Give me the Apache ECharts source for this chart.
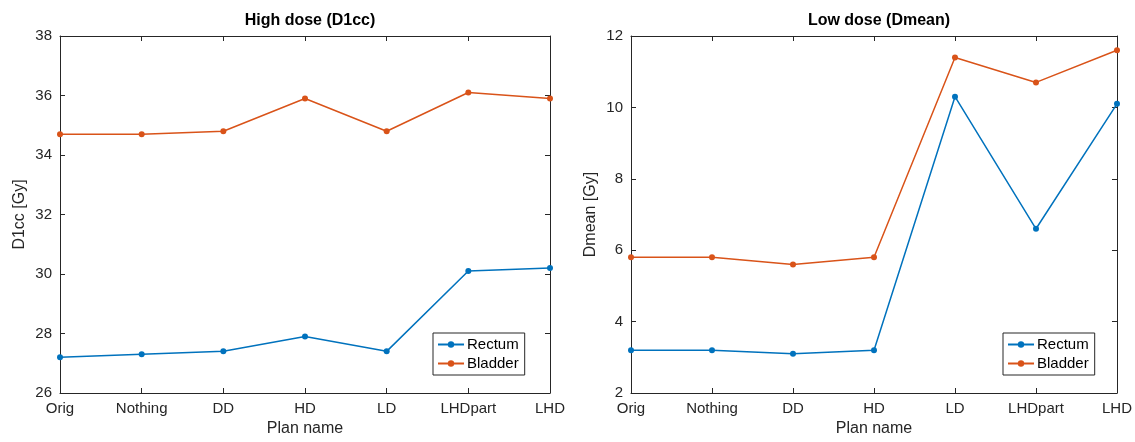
<!DOCTYPE html>
<html>
<head>
<meta charset="utf-8">
<script src="https://cdn.jsdelivr.net/npm/echarts@6/dist/echarts.min.js"></script>
<style>
  html, body { margin: 0; padding: 0; background: #fff; }
  #graphics { width: 1135px; height: 442px; }
</style>
</head>
<body>
<div id="graphics"></div>
<script>
// plan names along the x axis
const plans = ["Orig", "Nothing", "DD", "HD", "LD", "LHDpart", "LHD"];

// High dose (D1cc) values, Gy
const highRectum = [27.2, 27.3, 27.4, 27.9, 27.4, 30.1, 30.2];
const highBladder = [34.7, 34.7, 34.8, 35.9, 34.8, 36.1, 35.9];

// Low dose (Dmean) values, Gy
const lowRectum = [3.2, 3.2, 3.1, 3.2, 10.3, 6.6, 10.1];
const lowBladder = [5.8, 5.8, 5.6, 5.8, 11.4, 10.7, 11.6];

const font = "Liberation Sans, Arial, Helvetica, sans-serif";
const ink = "#262626";
const blue = "#0072BD";
const orange = "#D95319";

var myChart = echarts.init(document.getElementById('graphics'));

function catAxis(grid, top) {
    return {
        type: 'category', gridIndex: grid, data: plans, boundaryGap: false,
        position: top ? 'top' : 'bottom',
        axisLine: { show: true, lineStyle: { color: ink, width: 1 } },
        axisTick: { show: true, inside: true, length: 5, alignWithLabel: true, lineStyle: { color: ink } },
        axisLabel: { show: !top, color: ink, fontSize: 15, fontFamily: font, margin: 8, interval: 0 },
        name: top ? '' : 'Plan name', nameLocation: 'middle', nameGap: 28,
        nameTextStyle: { color: ink, fontSize: 16, fontFamily: font },
        splitLine: { show: false }
    };
}

function valAxis(grid, right, min, max, name) {
    return {
        type: 'value', gridIndex: grid, min: min, max: max, interval: 2,
        position: right ? 'right' : 'left',
        axisLine: { show: true, lineStyle: { color: ink, width: 1 } },
        axisTick: { show: true, inside: true, length: 5, lineStyle: { color: ink } },
        axisLabel: { show: !right, color: ink, fontSize: 15, fontFamily: font, margin: 8 },
        name: right ? '' : name, nameLocation: 'middle', nameGap: 32,
        nameTextStyle: { color: ink, fontSize: 16, fontFamily: font },
        splitLine: { show: false }
    };
}

function lineSeries(name, data, color, grid) {
    return {
        name: name, type: 'line', data: data,
        xAxisIndex: grid * 2, yAxisIndex: grid * 2,
        symbol: 'circle', symbolSize: 6,
        itemStyle: { color: color },
        lineStyle: { color: color, width: 1.5 },
        animation: false
    };
}

function legendAt(left) {
    return {
        orient: 'vertical', left: left, top: 333,
        data: ['Rectum', 'Bladder'],
        borderColor: ink, borderWidth: 1, borderRadius: 0,
        padding: [4, 6, 4, 4], itemGap: 4, itemWidth: 26, itemHeight: 8,
        backgroundColor: '#fff',
        textStyle: { color: '#000', fontSize: 15, fontFamily: font, padding: [0, 0, 0, -2] }
    };
}

var option = {
    backgroundColor: '#fff',
    animation: false,
    title: [
        { text: 'High dose (D1cc)', left: 305, top: 8, textAlign: 'center',
          textStyle: { fontSize: 16, fontWeight: 'bold', color: '#000', fontFamily: font } },
        { text: 'Low dose (Dmean)', left: 874, top: 8, textAlign: 'center',
          textStyle: { fontSize: 16, fontWeight: 'bold', color: '#000', fontFamily: font } }
    ],
    grid: [
        { left: 60, right: 585, top: 36, bottom: 49 },
        { left: 631, right: 17, top: 36, bottom: 49 }
    ],
    xAxis: [catAxis(0, false), catAxis(0, true), catAxis(1, false), catAxis(1, true)],
    yAxis: [
        valAxis(0, false, 26, 38, 'D1cc [Gy]'), valAxis(0, true, 26, 38, ''),
        valAxis(1, false, 2, 12, 'Dmean [Gy]'), valAxis(1, true, 2, 12, '')
    ],
    legend: [legendAt(433), legendAt(1003)],
    series: [
        lineSeries('Rectum', highRectum, blue, 0),
        lineSeries('Bladder', highBladder, orange, 0),
        lineSeries('Rectum', lowRectum, blue, 1),
        lineSeries('Bladder', lowBladder, orange, 1)
    ]
};

myChart.setOption(option);
</script>
</body>
</html>
